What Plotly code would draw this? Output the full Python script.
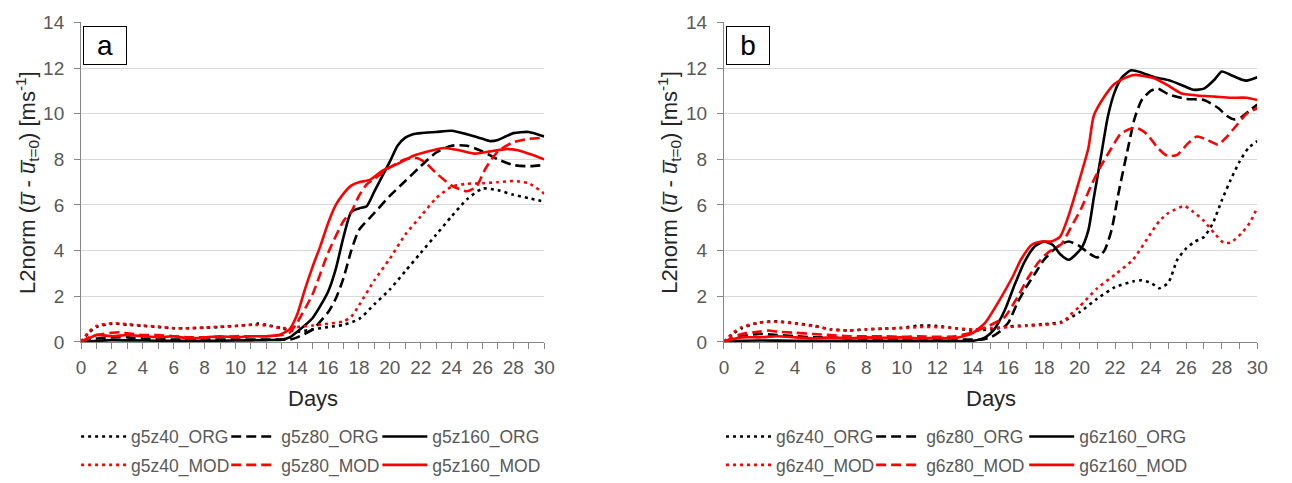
import plotly.graph_objects as go

# ---------------- Panel a (g5) ----------------
a_org40_days = [0, 0.5, 1, 2, 3, 4, 5, 6, 7, 8, 9, 10, 11, 11.5, 12, 13, 14, 15, 16, 17, 18, 19, 20, 21, 22, 23, 24, 25, 26, 27, 28, 29, 30]
a_org40_vals = [0, 0.4, 0.65, 0.8, 0.75, 0.7, 0.65, 0.6, 0.6, 0.62, 0.65, 0.7, 0.75, 0.8, 0.75, 0.6, 0.45, 0.55, 0.65, 0.75, 1.0, 1.65, 2.3, 3.1, 3.9, 4.7, 5.5, 6.25, 6.72, 6.65, 6.45, 6.3, 6.15]

a_mod40_days = [0, 0.5, 1, 2, 3, 4, 5, 6, 7, 8, 9, 10, 11, 12, 13, 14, 15, 16, 17, 17.5, 18, 19, 20, 21, 22, 23, 24, 25, 26, 27, 28, 29, 30]
a_mod40_vals = [0, 0.45, 0.7, 0.82, 0.78, 0.72, 0.67, 0.6, 0.6, 0.63, 0.67, 0.7, 0.75, 0.72, 0.6, 0.65, 0.72, 0.8, 0.9, 1.1, 1.6, 2.7, 3.65, 4.7, 5.5, 6.3, 6.8, 6.93, 6.95, 7.0, 7.05, 6.95, 6.5]

a_org80_days = [0, 1, 2, 3, 4, 5, 6, 8, 10, 12, 13, 13.5, 14, 15, 16, 16.5, 17, 17.5, 18, 19, 20, 21, 22, 23, 24, 25, 26, 27, 28, 29, 30]
a_org80_vals = [0, 0.15, 0.2, 0.2, 0.15, 0.12, 0.1, 0.1, 0.1, 0.1, 0.1, 0.1, 0.2, 0.55, 1.3, 1.9, 2.8, 4.0, 4.9, 5.65, 6.4, 7.05, 7.7, 8.3, 8.6, 8.6, 8.35, 8.0, 7.75, 7.7, 7.75]

a_org160_days = [0, 1, 2, 4, 6, 8, 10, 12, 13, 13.5, 14, 15, 16, 16.5, 17, 17.5, 18, 18.5, 19, 20, 20.5, 21, 21.5, 22, 23, 24, 25, 26, 26.5, 27, 27.5, 28, 29, 30]
a_org160_vals = [0, 0.05, 0.08, 0.06, 0.05, 0.05, 0.06, 0.08, 0.1, 0.2, 0.45, 1.05, 2.2, 3.2, 4.6, 5.7, 5.85, 5.95, 6.6, 7.9, 8.6, 8.95, 9.1, 9.15, 9.2, 9.25, 9.1, 8.9, 8.8, 8.85, 9.0, 9.15, 9.2, 9.0]

a_mod80_days = [0, 0.5, 1, 2, 2.5, 3, 4, 5, 6, 7, 8, 9, 10, 11, 12, 13, 13.5, 14, 15, 16, 17, 17.5, 18, 18.5, 19, 20, 21, 21.8, 22.4, 23, 24, 25, 25.6, 26.2, 27, 28, 29, 30]
a_mod80_vals = [0, 0.2, 0.3, 0.4, 0.42, 0.38, 0.3, 0.3, 0.25, 0.2, 0.2, 0.22, 0.25, 0.25, 0.25, 0.3, 0.4, 0.85, 2.1, 3.9, 5.3, 5.7, 6.4, 6.9, 7.15, 7.65, 8.0, 8.05, 7.8, 7.4, 6.85, 6.6, 6.8, 7.6, 8.35, 8.75, 8.9, 8.95]

a_mod160_days = [0, 0.5, 1, 2, 3, 4, 5, 6, 7, 8, 9, 10, 11, 12, 12.8, 13.5, 14, 14.5, 15, 15.5, 16, 16.5, 17, 17.5, 18, 18.7, 19.5, 20.5, 21.5, 22.5, 23.5, 24.5, 25.5, 26.5, 27.5, 28.3, 29.2, 30]
a_mod160_vals = [0, 0.15, 0.3, 0.25, 0.3, 0.25, 0.2, 0.25, 0.15, 0.2, 0.25, 0.2, 0.25, 0.25, 0.3, 0.55, 1.2, 2.3, 3.3, 4.2, 5.2, 6.0, 6.5, 6.85, 7.0, 7.1, 7.5, 7.8, 8.15, 8.35, 8.5, 8.4, 8.25, 8.35, 8.45, 8.4, 8.2, 8.0]

# ---------------- Panel b (g6) ----------------
b_org40_days = [0, 0.5, 1, 2, 3, 4, 5, 6, 7, 8, 9, 10, 11, 12, 13, 14, 15, 16, 17, 18, 19, 20, 21, 22, 23, 23.5, 24, 24.5, 25, 25.5, 26, 26.5, 27, 27.5, 28, 28.5, 29, 29.5, 30]
b_org40_vals = [0, 0.35, 0.6, 0.85, 0.9, 0.82, 0.72, 0.55, 0.5, 0.55, 0.58, 0.62, 0.72, 0.7, 0.6, 0.5, 0.55, 0.68, 0.72, 0.78, 0.88, 1.3, 1.9, 2.4, 2.65, 2.7, 2.6, 2.35, 2.6, 3.6, 4.1, 4.4, 4.6, 5.2, 6.2, 7.1, 7.9, 8.5, 8.8]

b_mod40_days = [0, 0.5, 1, 2, 3, 4, 5, 6, 7, 8, 9, 10, 11, 12, 13, 14, 15, 16, 17, 18, 19, 19.5, 20, 21, 22, 23, 24, 24.5, 25, 25.9, 26.4, 27, 27.6, 28.1, 28.5, 29.1, 29.6, 30]
b_mod40_vals = [0, 0.4, 0.65, 0.85, 0.88, 0.8, 0.7, 0.55, 0.5, 0.55, 0.58, 0.6, 0.65, 0.65, 0.6, 0.55, 0.6, 0.65, 0.7, 0.75, 0.85, 1.2, 1.55, 2.35, 2.95, 3.6, 4.75, 5.3, 5.65, 5.95, 5.7, 5.3, 4.75, 4.35, 4.35, 4.75, 5.25, 5.9]

b_org80_days = [0, 0.5, 1, 2, 3, 4, 5, 6, 7, 8, 9, 10, 11, 12, 13, 14, 14.5, 15, 15.5, 16, 16.5, 17, 17.5, 18, 18.5, 19, 19.4, 20, 20.5, 21, 21.4, 21.8, 22.2, 22.7, 23.1, 23.5, 24, 24.4, 25, 26, 27, 27.8, 28.3, 28.7, 29.1, 29.5, 30]
b_org80_vals = [0, 0.15, 0.25, 0.35, 0.3, 0.25, 0.2, 0.2, 0.15, 0.15, 0.15, 0.15, 0.15, 0.12, 0.1, 0.1, 0.1, 0.2, 0.45, 0.85, 1.7, 2.4, 3.0, 3.6, 4.0, 4.3, 4.4, 4.2, 3.9, 3.7, 4.0, 4.9, 6.55, 8.4, 9.8, 10.6, 11.0, 11.1, 10.85, 10.65, 10.6, 10.25, 9.9, 9.75, 9.85, 10.1, 10.4]

b_org160_days = [0, 1, 2, 4, 6, 8, 10, 12, 14, 14.7, 15.2, 15.8, 16.35, 16.9, 17.5, 18, 18.5, 18.9, 19.4, 20.1, 20.5, 20.8, 21.2, 21.6, 22, 22.4, 22.9, 23.5, 24.2, 25.1, 25.9, 26.4, 27, 27.6, 28, 28.5, 29.1, 29.4, 30]
b_org160_vals = [0, 0.05, 0.06, 0.05, 0.05, 0.05, 0.05, 0.05, 0.05, 0.2, 0.55, 1.4, 2.5, 3.5, 4.2, 4.4, 4.25, 3.85, 3.6, 4.1, 4.9, 6.3, 8.1, 9.9, 11.0, 11.6, 11.9, 11.8, 11.6, 11.45, 11.2, 11.05, 11.1, 11.5, 11.85, 11.7, 11.5, 11.45, 11.6]

b_mod80_days = [0, 0.5, 1, 2, 2.5, 3, 4, 5, 6, 7, 8, 9, 10, 11, 12, 13, 13.9, 14.9, 15.8, 16.5, 17.1, 17.7, 18.2, 19, 19.5, 20.1, 20.65, 21.2, 21.8, 22.3, 22.9, 23.3, 23.8, 24.4, 24.95, 25.5, 26.1, 26.6, 27.2, 27.8, 28.3, 28.9, 29.4, 30]
b_mod80_vals = [0, 0.2, 0.35, 0.45, 0.5, 0.45, 0.4, 0.35, 0.3, 0.25, 0.25, 0.25, 0.22, 0.25, 0.22, 0.25, 0.4, 0.7, 1.1, 1.95, 2.8, 3.5, 3.9, 4.3, 5.0, 5.85, 6.85, 7.7, 8.5, 9.1, 9.35, 9.35, 9.1, 8.5, 8.15, 8.2, 8.7, 9.0, 8.85, 8.65, 9.0, 9.55, 10.0, 10.25]

b_mod160_days = [0, 0.5, 1, 2, 3, 4, 5, 6, 7, 8, 9, 10, 11, 12, 12.8, 13.9, 14.7, 15.4, 16.2, 16.7, 17.3, 17.85, 18.4, 18.9, 19.35, 19.9, 20.5, 20.8, 21.4, 21.96, 22.5, 23.1, 23.6, 24.2, 24.95, 25.7, 26.6, 27.6, 28.5, 29.4, 30]
b_mod160_vals = [0, 0.12, 0.2, 0.2, 0.25, 0.2, 0.15, 0.2, 0.15, 0.2, 0.18, 0.2, 0.15, 0.18, 0.15, 0.35, 0.85, 1.7, 2.8, 3.6, 4.25, 4.4, 4.4, 4.6, 5.45, 6.85, 8.5, 9.9, 10.75, 11.3, 11.55, 11.7, 11.65, 11.55, 11.25, 10.9, 10.8, 10.75, 10.7, 10.7, 10.6]

names_a = ["g5z40_ORG", "g5z80_ORG", "g5z160_ORG", "g5z40_MOD", "g5z80_MOD", "g5z160_MOD"]
names_b = ["g6z40_ORG", "g6z80_ORG", "g6z160_ORG", "g6z40_MOD", "g6z80_MOD", "g6z160_MOD"]
x_ticks = list(range(0, 31, 2))
y_ticks = list(range(0, 15, 2))

W, H = 1292, 483
BLACK, RED = "#000000", "#ff0000"
DOT = "3px,4px"
DASH = "10px,5px"
FONT = "Liberation Sans, Arial, sans-serif"
TICKC = "#595959"

series_a = [
    (a_org40_days, a_org40_vals, BLACK, DOT),
    (a_org80_days, a_org80_vals, BLACK, DASH),
    (a_org160_days, a_org160_vals, BLACK, "solid"),
    (a_mod40_days, a_mod40_vals, RED, DOT),
    (a_mod80_days, a_mod80_vals, RED, DASH),
    (a_mod160_days, a_mod160_vals, RED, "solid"),
]
series_b = [
    (b_org40_days, b_org40_vals, BLACK, DOT),
    (b_org80_days, b_org80_vals, BLACK, DASH),
    (b_org160_days, b_org160_vals, BLACK, "solid"),
    (b_mod40_days, b_mod40_vals, RED, DOT),
    (b_mod80_days, b_mod80_vals, RED, DASH),
    (b_mod160_days, b_mod160_vals, RED, "solid"),
]

def px_x(p):
    return p / W

def px_y(p):
    return 1 - p / H

# legend entry anchors (line start x, row centre y) for each trace, in pixels
col_a = [80, 232, 385]
col_b = [733, 885, 1040]
rows = [446, 476]

fig = go.Figure()
legends = {}
k = 0
for panel, (series, names, cols, xa, ya) in enumerate([
        (series_a, names_a, col_a, "x", "y"),
        (series_b, names_b, col_b, "x2", "y2")]):
    for i, ((d, v, c, dash), nm) in enumerate(zip(series, names)):
        k += 1
        lid = "legend" if k == 1 else "legend%d" % k
        fig.add_trace(go.Scatter(x=d, y=v, name=nm, mode="lines", xaxis=xa, yaxis=ya, legend=lid,
                                 line=dict(color=c, width=2.6, dash=dash, shape="spline", smoothing=0.6)))
        legends[lid] = dict(orientation="h", x=px_x(cols[i % 3] - 8), y=px_y(rows[i // 3]),
                            xanchor="left", yanchor="middle", bgcolor="rgba(0,0,0,0)",
                            font=dict(family=FONT, size=17.5, color=TICKC), itemwidth=45)

y_dom = [px_y(347), px_y(13)]
xa_dom = [px_x(77), px_x(546)]
xb_dom = [px_x(728), px_x(1268)]

def xaxis(dom, anchor):
    return dict(domain=dom, anchor=anchor, range=[0, 30], tickvals=x_ticks,
                ticks="outside", ticklen=6, tickcolor="#868686", showline=True, linecolor="#868686",
                linewidth=1, showgrid=False, zeroline=False, ticklabelstandoff=2,
                tickfont=dict(family=FONT, size=19, color=TICKC),
                minor=dict(dtick=1, ticks="outside", ticklen=6, tickcolor="#868686", showgrid=False))

def yaxis(anchor):
    return dict(domain=y_dom, anchor=anchor, range=[0, 14], tickvals=y_ticks,
                ticks="outside", ticklen=6, tickcolor="#868686", showline=True, linecolor="#868686",
                linewidth=1, showgrid=True, gridcolor="#d9d9d9", gridwidth=1, zeroline=False,
                ticklabelstandoff=6,
                tickfont=dict(family=FONT, size=19, color=TICKC))

ytitle = "L2norm (<i>u\u0305</i> - <i>u\u0305</i><sub>t=0</sub>) [ms<sup>-1</sup>]"
ann = []
for cx, lx, letter in [(22, 101.5, "a"), (672, 752, "b")]:
    ann.append(dict(text=ytitle, x=px_x(cx), y=px_y(180), xref="paper", yref="paper",
                    textangle=-90, showarrow=False, xanchor="center", yanchor="middle",
                    font=dict(family=FONT, size=22, color="#262626")))
    ann.append(dict(text=letter, x=px_x(lx), y=px_y(37.5), xref="paper", yref="paper",
                    showarrow=False, xanchor="center", yanchor="middle", width=40, height=35,
                    bordercolor="#000000", borderwidth=1, bgcolor="#ffffff",
                    font=dict(family=FONT, size=28, color="#000000")))
for cx in [311.5, 998]:
    ann.append(dict(text="Days", x=px_x(cx), y=px_y(406), xref="paper", yref="paper",
                    showarrow=False, xanchor="center", yanchor="middle",
                    font=dict(family=FONT, size=22, color="#262626")))

fig.update_layout(
    width=W, height=H, margin=dict(l=0, r=0, t=0, b=0),
    paper_bgcolor="#ffffff", plot_bgcolor="#ffffff",
    xaxis=xaxis(xa_dom, "y"), yaxis=yaxis("x"),
    xaxis2=xaxis(xb_dom, "y2"), yaxis2=yaxis("x2"),
    annotations=ann, showlegend=True,
)
fig.update_layout(**legends)
fig.write_html("out.html")
